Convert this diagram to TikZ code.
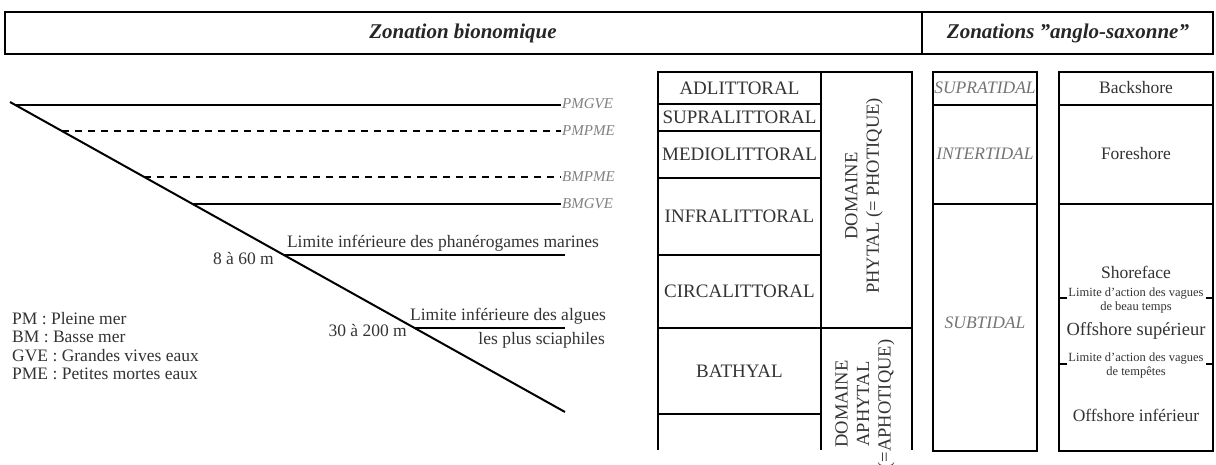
\documentclass[tikz,border=0pt]{standalone}
\usepackage{fontspec}
\setmainfont{Liberation Serif}
\usetikzlibrary{positioning, calc}

\begin{document}
\begin{tikzpicture}[
   x = 1pt, y = -1pt,
   every node/.style = {inner sep=1pt, text=black!80, font=\fontsize{17.5}{20}\selectfont},
   boxline/.style = {line width=1.6pt},
   shoreline/.style = {line width=2pt},
   waterline/.style = {line width=1.6pt},
   neapline/.style = {waterline, dash pattern=on 7pt off 6pt},
   tidelabel/.style = {anchor=west, text=black!50, font=\fontsize{15}{17}\selectfont\itshape},
   titletext/.style = {text=black!85, font=\fontsize{21}{24}\selectfont\bfseries\itshape},
   tidaltext/.style = {text=black!55, font=\fontsize{17.5}{20}\selectfont\itshape},
   zonetext/.style = {font=\fontsize{19}{21}\selectfont},
   domainlabel/.style = {rotate=90, align=center, font=\fontsize{18.5}{21.5}\selectfont},
   notetext/.style = {align=center, font=\fontsize{12.5}{14}\selectfont}]

   \useasboundingbox (0,0) rectangle (1216,464);

   % en-tete
   \draw[boxline] (5,12) rectangle (1213,54);
   \draw[boxline] (922,12) -- (922,54);
   \node[titletext] (bionom) at (463,33) {Zonation bionomique};
   \node[titletext] (anglo) at (1068,33) {Zonations "anglo-saxonne"};

   % profil
   \coordinate (top) at (10,102);
   \coordinate (bottom) at (565,412);
   \draw[shoreline] (top) -- (bottom);

   \coordinate (pmgve0) at ($(top)!0.01!(bottom)$);
   \coordinate (pmpme0) at ($(top)!0.094!(bottom)$);
   \coordinate (bmpme0) at ($(top)!0.242!(bottom)$);
   \coordinate (bmgve0) at ($(top)!0.329!(bottom)$);
   \coordinate (phan0) at ($(top)!0.4935!(bottom)$);
   \coordinate (algue0) at ($(top)!0.729!(bottom)$);

   \node[tidelabel] (pmgve) at (561,104) {PMGVE};
   \node[tidelabel] (pmpme) at (561,131) {PMPME};
   \node[tidelabel] (bmpme) at (561,177) {BMPME};
   \node[tidelabel] (bmgve) at (561,204) {BMGVE};

   \draw[waterline] (pmgve0) -- (pmgve0 -| pmgve.west);
   \draw[neapline] (pmpme0) -- (pmpme0 -| pmpme.west);
   \draw[neapline] (bmpme0) -- (bmpme0 -| bmpme.west);
   \draw[waterline] (bmgve0) -- (bmgve0 -| bmgve.west);

   \draw[waterline] (phan0) -- (phan0 -| bottom);
   \draw[waterline] (algue0) -- (algue0 -| bottom);

   \node (phanlab) at (443,243) {Limite inférieure des phanérogames marines};
   \node[anchor=east] (phandepth) at (275,258) {8 à 60 m};
   \node (alguelab) at (508,316) {Limite inférieure des algues};
   \node[anchor=east] (alguelab2) at (606,340) {les plus sciaphiles};
   \node[anchor=east] (alguedepth) at (408,330) {30 à 200 m};

   % legende
   \node[anchor=west, align=left, font=\fontsize{17.5}{18.5}\selectfont] (legend) at (11,346)
      {PM : Pleine mer\\BM : Basse mer\\GVE : Grandes vives eaux\\PME : Petites mortes eaux};

   % zonation bionomique
   \draw[boxline] (658,450) -- (658,72) -- (912,72) -- (912,450);
   \draw[boxline] (821,72) -- (821,450);
   \foreach \y in {104,131,178,255,414}
      \draw[boxline] (658,\y) -- (821,\y);
   \draw[boxline] (658,328) -- (912,328);

   \foreach \name/\y in {ADLITTORAL/88, SUPRALITTORAL/117.5, MEDIOLITTORAL/154.5,
                         INFRALITTORAL/216, CIRCALITTORAL/291, BATHYAL/371}
      \node[zonetext] (\name) at (739.5,\y) {\name};

   \node[domainlabel] (phytal) at (864,196) {DOMAINE\\PHYTAL (= PHOTIQUE)};
   \node[domainlabel] (aphytal) at (865,404) {DOMAINE\\APHYTAL\\(=APHOTIQUE)};

   % zonations anglo-saxonnes
   \draw[boxline] (933,72) rectangle (1037,451);
   \draw[boxline] (1059,72) rectangle (1213,451);
   \foreach \y in {105,204} {
      \draw[boxline] (933,\y) -- (1037,\y);
      \draw[boxline] (1059,\y) -- (1213,\y);
   }
   \foreach \y in {298,364} {
      \draw[boxline] (1059,\y) -- (1067,\y);
      \draw[boxline] (1206,\y) -- (1213,\y);
   }

   \node[tidaltext] (supra) at (985,88) {SUPRATIDAL};
   \node[tidaltext] (inter) at (985,154) {INTERTIDAL};
   \node[tidaltext] (sub) at (985,323) {SUBTIDAL};

   \node (back) at (1136,88) {Backshore};
   \node (fore) at (1136,154) {Foreshore};
   \node (shoreface) at (1136,272) {Shoreface};
   \node[notetext] (beau) at (1136,300) {Limite d'action des vagues\\de beau temps};
   \node[font=\fontsize{18.5}{20}\selectfont] (offsup) at (1136,331) {Offshore supérieur};
   \node[notetext] (tempete) at (1136,365) {Limite d'action des vagues\\de tempêtes};
   \node[font=\fontsize{17.5}{20}\selectfont] (offinf) at (1136,415) {Offshore inférieur};
\end{tikzpicture}
\end{document}
